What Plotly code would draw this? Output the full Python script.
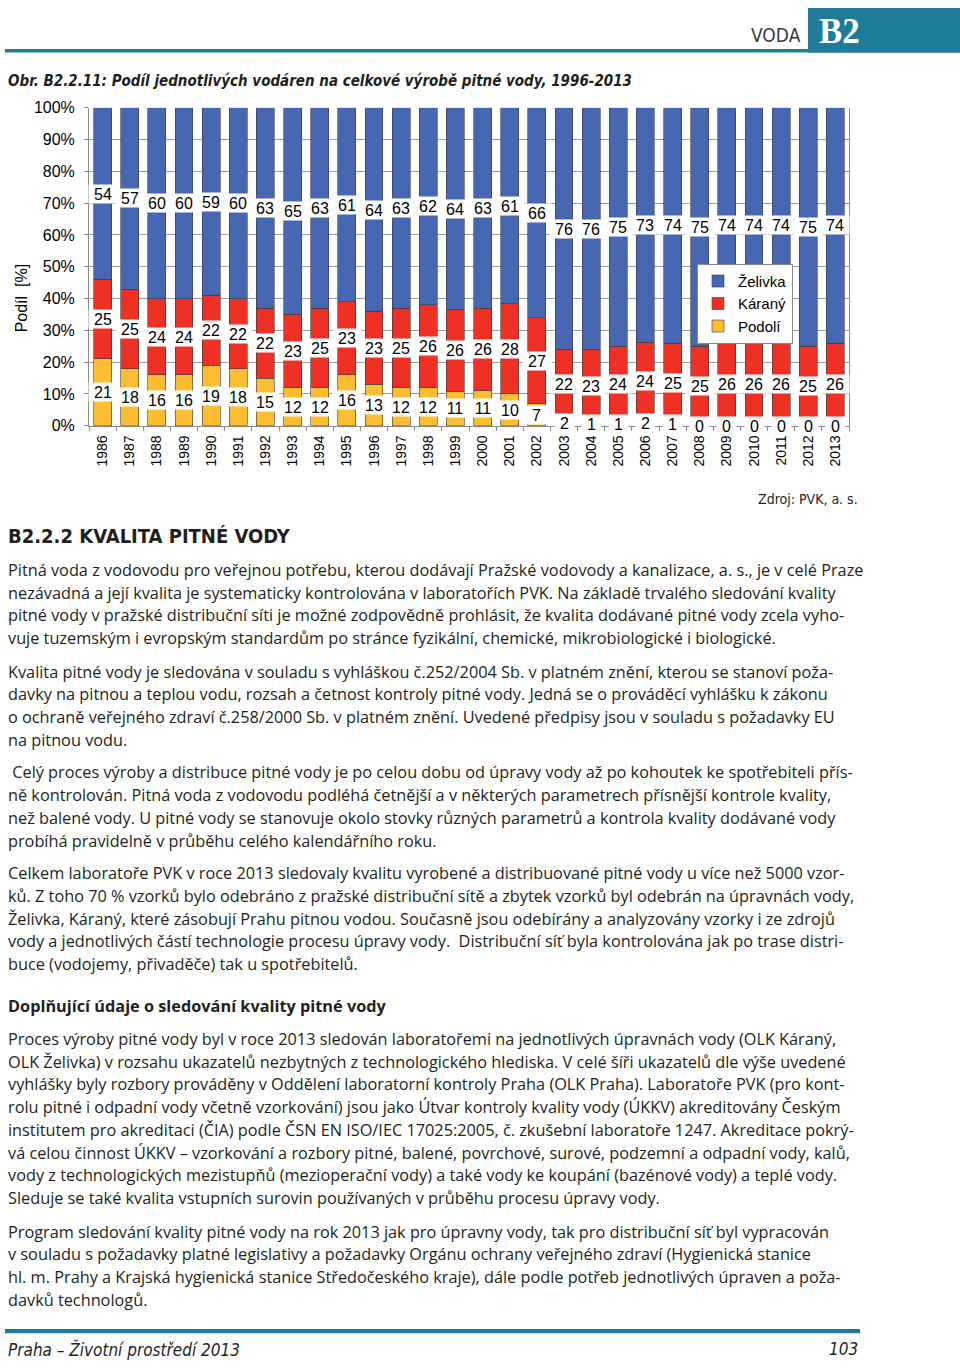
import plotly.graph_objects as go

# ---------------- data ----------------
years = ["1986", "1987", "1988", "1989", "1990", "1991", "1992", "1993", "1994", "1995",
         "1996", "1997", "1998", "1999", "2000", "2001", "2002", "2003", "2004", "2005",
         "2006", "2007", "2008", "2009", "2010", "2011", "2012", "2013"]
zelivka = [54, 57, 60, 60, 59, 60, 63, 65, 63, 61, 64, 63, 62, 64, 63, 61, 66, 76, 76, 75,
           73, 74, 75, 74, 74, 74, 75, 74]
karany = [25, 25, 24, 24, 22, 22, 22, 23, 25, 23, 23, 25, 26, 26, 26, 28, 27, 22, 23, 24,
          24, 25, 25, 26, 26, 26, 25, 26]
podoli = [21, 18, 16, 16, 19, 18, 15, 12, 12, 16, 13, 12, 12, 11, 11, 10, 7, 2, 1, 1,
          2, 1, 0, 0, 0, 0, 0, 0]
series_names = ["Podolí", "Káraný", "Želivka"]
series_colors = ["#FBBE33", "#EE3124", "#4767B3"]

W, H = 960, 1372


def px(x):
    return x / W


def py(y):
    return 1 - y / H


BODY = "Open Sans, Noto Sans, sans-serif"
NARROW = "DejaVu Sans Condensed, Liberation Sans Narrow, sans-serif"
ARIAL = "Liberation Sans, Arial, sans-serif"
TEXT_COLOR = "#231F20"
TEAL = "#1E7C9A"

fig = go.Figure()
for name, vals, col in zip(series_names, [podoli, karany, zelivka], series_colors):
    fig.add_trace(go.Bar(
        x=years, y=vals, name=name,
        marker=dict(color=col, line=dict(color="#3a3a3a", width=0.6)),
        hoverinfo="skip",
    ))

annotations = []
# data labels with white boxes, centred on each stacked segment
for i, yr in enumerate(years):
    vals = [podoli[i], karany[i], zelivka[i]]
    total = sum(vals)
    base = 0
    for v in vals:
        centre = (base + v / 2) / total * 100
        label = str(v)
        annotations.append(dict(
            x=i, y=centre, xref="x", yref="y", text=label, showarrow=False,
            xanchor="center", yanchor="middle",
            bgcolor="white", width=10 + 9 * len(label), height=18, borderpad=0,
            font=dict(family=ARIAL, size=16, color="black"),
        ))
        base += v

# y-axis title
annotations.append(dict(
    x=px(21), y=py(294), xref="paper", yref="paper", text="Podíl  [%]",
    xanchor="center", yanchor="middle",
    textangle=-90, showarrow=False, font=dict(family=ARIAL, size=16, color="black"),
))

# header
annotations.append(dict(x=px(803), y=py(27), xref="paper", yref="paper", text="VODA",
                        xanchor="right", yanchor="middle", showarrow=False,
                        font=dict(family=NARROW, size=19, color="#3a3a3a")))
annotations.append(dict(x=px(839), y=py(24), xref="paper", yref="paper", text="<b>B2</b>",
                        xanchor="center", yanchor="middle", showarrow=False,
                        font=dict(family="Liberation Serif, Times New Roman, serif", size=35,
                                  color="white")))
# figure caption
annotations.append(dict(x=px(6), y=py(74), xref="paper", yref="paper",
                        text="<b><i>Obr. B2.2.11: Podíl jednotlivých vodáren na celkové výrobě pitné vody, 1996-2013</i></b>",
                        xanchor="left", yanchor="middle", showarrow=False,
                        font=dict(family=NARROW, size=15, color=TEXT_COLOR)))
# source
annotations.append(dict(x=px(860), y=py(497), xref="paper", yref="paper",
                        text="Zdroj: PVK, a. s.", xanchor="right", yanchor="middle",
                        showarrow=False, font=dict(family=NARROW, size=14, color=TEXT_COLOR)))
# section heading
annotations.append(dict(x=px(6), y=py(535), xref="paper", yref="paper",
                        text="<b>B2.2.2 KVALITA PITNÉ VODY</b>", xanchor="left", yanchor="middle",
                        showarrow=False, font=dict(family=NARROW, size=20, color=TEXT_COLOR)))

body_lines = [
    (569, "Pitná voda z vodovodu pro veřejnou potřebu, kterou dodávají Pražské vodovody a kanalizace, a. s., je v celé Praze"),
    (592, "nezávadná a její kvalita je systematicky kontrolována v laboratořích PVK. Na základě trvalého sledování kvality"),
    (615, "pitné vody v pražské distribuční síti je možné zodpovědně prohlásit, že kvalita dodávané pitné vody zcela vyho-"),
    (638, "vuje tuzemským i evropským standardům po stránce fyzikální, chemické, mikrobiologické i biologické."),
    (672, "Kvalita pitné vody je sledována v souladu s vyhláškou č.252/2004 Sb. v platném znění, kterou se stanoví poža-"),
    (695, "davky na pitnou a teplou vodu, rozsah a četnost kontroly pitné vody. Jedná se o prováděcí vyhlášku k zákonu"),
    (718, "o ochraně veřejného zdraví č.258/2000 Sb. v platném znění. Uvedené předpisy jsou v souladu s požadavky EU"),
    (741, "na pitnou vodu."),
    (774, " Celý proces výroby a distribuce pitné vody je po celou dobu od úpravy vody až po kohoutek ke spotřebiteli přís-"),
    (797, "ně kontrolován. Pitná voda z vodovodu podléhá četnější a v některých parametrech přísnější kontrole kvality,"),
    (820, "než balené vody. U pitné vody se stanovuje okolo stovky různých parametrů a kontrola kvality dodávané vody"),
    (843, "probíhá pravidelně v průběhu celého kalendářního roku."),
    (876, "Celkem laboratoře PVK v roce 2013 sledovaly kvalitu vyrobené a distribuované pitné vody u více než 5000 vzor-"),
    (899, "ků. Z toho 70 % vzorků bylo odebráno z pražské distribuční sítě a zbytek vzorků byl odebrán na úpravnách vody,"),
    (922, "Želivka, Káraný, které zásobují Prahu pitnou vodou. Současně jsou odebírány a analyzovány vzorky i ze zdrojů"),
    (945, "vody a jednotlivých částí technologie procesu úpravy vody.  Distribuční síť byla kontrolována jak po trase distri-"),
    (968, "buce (vodojemy, přivaděče) tak u spotřebitelů."),
    (1044, "Proces výroby pitné vody byl v roce 2013 sledován laboratořemi na jednotlivých úpravnách vody (OLK Káraný,"),
    (1067, "OLK Želivka) v rozsahu ukazatelů nezbytných z technologického hlediska. V celé šíři ukazatelů dle výše uvedené"),
    (1090, "vyhlášky byly rozbory prováděny v Oddělení laboratorní kontroly Praha (OLK Praha). Laboratoře PVK (pro kont-"),
    (1113, "rolu pitné i odpadní vody včetně vzorkování) jsou jako Útvar kontroly kvality vody (ÚKKV) akreditovány Českým"),
    (1136, "institutem pro akreditaci (ČIA) podle ČSN EN ISO/IEC 17025:2005, č. zkušební laboratoře 1247. Akreditace pokrý-"),
    (1159, "vá celou činnost ÚKKV – vzorkování a rozbory pitné, balené, povrchové, surové, podzemní a odpadní vody, kalů,"),
    (1182, "vody z technologických mezistupňů (mezioperační vody) a také vody ke koupání (bazénové vody) a teplé vody."),
    (1205, "Sleduje se také kvalita vstupních surovin používaných v průběhu procesu úpravy vody."),
    (1239, "Program sledování kvality pitné vody na rok 2013 jak pro úpravny vody, tak pro distribuční síť byl vypracován"),
    (1262, "v souladu s požadavky platné legislativy a požadavky Orgánu ochrany veřejného zdraví (Hygienická stanice"),
    (1285, "hl. m. Prahy a Krajská hygienická stanice Středočeského kraje), dále podle potřeb jednotlivých úpraven a poža-"),
    (1308, "davků technologů."),
]
for yy, txt in body_lines:
    annotations.append(dict(x=px(6), y=py(yy), xref="paper", yref="paper", text=txt,
                            xanchor="left", yanchor="middle", showarrow=False,
                            font=dict(family=BODY, size=16.3, color=TEXT_COLOR)))

annotations.append(dict(x=px(6), y=py(1011), xref="paper", yref="paper",
                        text="<b>Doplňující údaje o sledování kvality pitné vody</b>",
                        xanchor="left", yanchor="middle", showarrow=False,
                        font=dict(family=BODY, size=16.3, color=TEXT_COLOR)))

# footer
annotations.append(dict(x=px(6), y=py(1358), xref="paper", yref="paper",
                        text="<i>Praha – Životní prostředí 2013</i>", xanchor="left",
                        yanchor="middle", showarrow=False,
                        font=dict(family=NARROW, size=17, color=TEXT_COLOR)))
annotations.append(dict(x=px(860), y=py(1358), xref="paper", yref="paper",
                        text="<i>103</i>", xanchor="right", yanchor="middle", showarrow=False,
                        font=dict(family=NARROW, size=17, color=TEXT_COLOR)))

shapes = [
    dict(type="rect", xref="paper", yref="paper", x0=px(808), x1=1, y0=py(45), y1=1,
         fillcolor=TEAL, line=dict(width=0), layer="below"),
    dict(type="rect", xref="paper", yref="paper", x0=px(5), x1=1, y0=py(45), y1=py(41.5),
         fillcolor=TEAL, line=dict(width=0), layer="below"),
    dict(type="rect", xref="paper", yref="paper", x0=px(5), x1=px(860), y0=py(1342),
         y1=py(1337.5), fillcolor=TEAL, line=dict(width=0), layer="below"),
]

fig.update_layout(
    width=W, height=H,
    margin=dict(l=0, r=0, t=0, b=0),
    paper_bgcolor="white", plot_bgcolor="white",
    barmode="stack", barnorm="percent", bargap=0.34,
    showlegend=True,
    legend=dict(x=px(697), y=py(259), xanchor="left", yanchor="top",
                traceorder="reversed", bgcolor="white", bordercolor="#8a8a8a",
                borderwidth=1, font=dict(family=ARIAL, size=15, color="black"),
                tracegroupgap=0),
    xaxis=dict(domain=[px(89), px(849)], type="category", range=[-0.5, len(years) - 0.5],
               showgrid=False, showline=True, linecolor="#8a8a8a", linewidth=1,
               ticks="outside", tickson="boundaries", ticklen=4, tickcolor="#8a8a8a",
               ticklabelstandoff=3,
               tickangle=-90, tickfont=dict(family=ARIAL, size=14, color="black")),
    yaxis=dict(domain=[py(423), py(101)], range=[0, 100], dtick=10, ticksuffix="%",
               showgrid=True, gridcolor="#9a9a9a", gridwidth=1,
               zeroline=False, showline=True, linecolor="#8a8a8a", linewidth=1, mirror=True,
               ticks="outside", ticklen=4, tickcolor="#8a8a8a", ticklabelstandoff=6,
               tickfont=dict(family=ARIAL, size=16, color="black")),
    annotations=annotations,
    shapes=shapes,
)

post = (
    "document.documentElement.style.margin='0';"
    "document.body.style.margin='0';document.body.style.padding='0';"
    "document.body.style.overflow='hidden';"
    "var g=document.getElementsByClassName('plotly-graph-div')[0];"
    "g.style.position='absolute';g.style.left='0px';g.style.top='0px';"
)
fig.write_html("out.html", config={"displayModeBar": False}, post_script=post)
